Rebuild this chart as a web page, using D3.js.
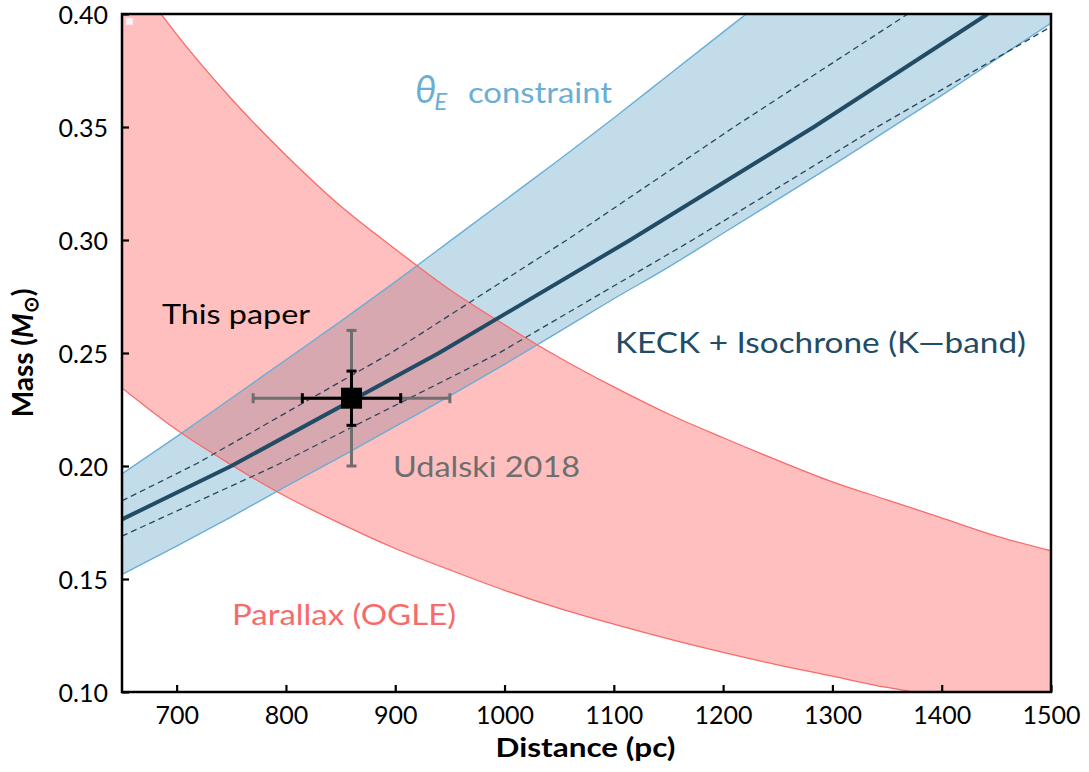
<!DOCTYPE html>
<html>
<head>
<meta charset="utf-8">
<script src="https://cdn.jsdelivr.net/npm/d3@7"></script>
<style>
  html, body { margin: 0; padding: 0; background: #fff; }
  svg { display: block; font-family: "Lato", "Open Sans", sans-serif; }
</style>
</head>
<body>
<svg id="chart" width="1089" height="772"></svg>
<script>
// ---------------- data ----------------
const parallaxD     = [650, 675, 700, 750, 800, 850, 900, 950, 1000, 1050, 1100, 1150, 1200, 1250, 1300, 1350, 1400, 1450, 1500];
const parallaxUpper = [0.424, 0.407, 0.391, 0.3625, 0.3375, 0.315, 0.296, 0.278, 0.2625, 0.248, 0.235, 0.223, 0.2125, 0.2025, 0.193, 0.185, 0.177, 0.169, 0.1625];
const parallaxLower = [0.2345, 0.225, 0.216, 0.2005, 0.1865, 0.1745, 0.1635, 0.154, 0.145, 0.137, 0.130, 0.1235, 0.1175, 0.112, 0.107, 0.102, 0.098, 0.094, 0.090];

const thetaD     = [650, 700, 750, 800, 850, 900, 950, 1000, 1050, 1100, 1150, 1200, 1250, 1300, 1350, 1400, 1450, 1500];
const thetaUpper = [0.1965, 0.213, 0.230, 0.247, 0.264, 0.2815, 0.2995, 0.3175, 0.3355, 0.354, 0.373, 0.392, 0.411, 0.431, 0.451, 0.471, 0.492, 0.513];
const thetaLower = [0.152, 0.1645, 0.1775, 0.191, 0.204, 0.2175, 0.231, 0.245, 0.2595, 0.274, 0.288, 0.303, 0.318, 0.333, 0.3485, 0.364, 0.380, 0.396];

const isoD      = [650, 750, 940, 1115, 1283, 1442];
const isoM      = [0.1764, 0.20, 0.25, 0.30, 0.35, 0.40];
const isoHiD    = [650, 719, 896, 1057, 1210, 1369];
const isoHiM    = [0.1846, 0.2012, 0.25, 0.30, 0.35, 0.40];
const isoLoD    = [650, 790, 995, 1172, 1341, 1500];
const isoLoM    = [0.169, 0.20, 0.25, 0.30, 0.35, 0.3944];

// measurement points: [distance, mass, dErr, mErr]
const udalskiPoint = [860, 0.23, 90, 0.03];
const thisPaperPoint = [860, 0.23, 45, 0.012];

const xTicks = [700, 800, 900, 1000, 1100, 1200, 1300, 1400, 1500];
const yTicks = [0.10, 0.15, 0.20, 0.25, 0.30, 0.35, 0.40];

// ---------------- layout ----------------
const svg = d3.select("#chart");
const L = 122, R = 1051, T = 14, B = 692;
const x = d3.scaleLinear().domain([650, 1500]).range([L, R]);
const y = d3.scaleLinear().domain([0.10, 0.40]).range([B, T]);

svg.append("defs").append("clipPath").attr("id", "plotclip")
  .append("rect").attr("x", L).attr("y", T).attr("width", R - L).attr("height", B - T);

const plot = svg.append("g").attr("clip-path", "url(#plotclip)");

const thetaData = thetaD.map((d, i) => ({d, lo: thetaLower[i], hi: thetaUpper[i]}));
const parData = parallaxD.map((d, i) => ({d, lo: parallaxLower[i], hi: parallaxUpper[i]}));

const area = d3.area().x(p => x(p.d)).y0(p => y(p.lo)).y1(p => y(p.hi)).curve(d3.curveMonotoneX);
const lineLo = d3.line().x(p => x(p.d)).y(p => y(p.lo)).curve(d3.curveMonotoneX);
const lineHi = d3.line().x(p => x(p.d)).y(p => y(p.hi)).curve(d3.curveMonotoneX);

// theta_E band
plot.append("path").datum(thetaData).attr("d", area).attr("fill", "#c3dcea");
// parallax band (semi-transparent over blue)
plot.append("path").datum(parData).attr("d", area).attr("fill", "rgb(255,72,72)").attr("fill-opacity", 0.35);

// edges
plot.append("path").datum(thetaData).attr("d", lineHi).attr("fill", "none").attr("stroke", "#6aaed6").attr("stroke-width", 1.4);
plot.append("path").datum(thetaData).attr("d", lineLo).attr("fill", "none").attr("stroke", "#6aaed6").attr("stroke-width", 1.4);
plot.append("path").datum(parData).attr("d", lineHi).attr("fill", "none").attr("stroke", "#f86b6b").attr("stroke-width", 1.3);
plot.append("path").datum(parData).attr("d", lineLo).attr("fill", "none").attr("stroke", "#f86b6b").attr("stroke-width", 1.3);

// isochrone lines
const simple = d3.line().x(p => x(p[0])).y(p => y(p[1]));
plot.append("path").datum(isoHiD.map((d, i) => [d, isoHiM[i]])).attr("d", simple)
  .attr("fill", "none").attr("stroke", "#28465c").attr("stroke-width", 1.3).attr("stroke-dasharray", "6,4");
plot.append("path").datum(isoLoD.map((d, i) => [d, isoLoM[i]])).attr("d", simple)
  .attr("fill", "none").attr("stroke", "#28465c").attr("stroke-width", 1.3).attr("stroke-dasharray", "6,4");
plot.append("path").datum(isoD.map((d, i) => [d, isoM[i]])).attr("d", simple)
  .attr("fill", "none").attr("stroke", "#224c66").attr("stroke-width", 4).attr("stroke-linejoin", "round");

// error bars
function errbar(pt, color, cap) {
  const [d, m, de, me] = pt;
  const g = svg.append("g").attr("stroke", color).attr("stroke-width", 3);
  g.append("line").attr("x1", x(d - de)).attr("x2", x(d + de)).attr("y1", y(m)).attr("y2", y(m));
  g.append("line").attr("x1", x(d)).attr("x2", x(d)).attr("y1", y(m - me)).attr("y2", y(m + me));
  [d - de, d + de].forEach(v => g.append("line").attr("x1", x(v)).attr("x2", x(v)).attr("y1", y(m) - cap).attr("y2", y(m) + cap));
  [m - me, m + me].forEach(v => g.append("line").attr("x1", x(d) - cap).attr("x2", x(d) + cap).attr("y1", y(v)).attr("y2", y(v)));
}
errbar(udalskiPoint, "#6e6e6e", 5);
errbar(thisPaperPoint, "#000", 5);
svg.append("rect")
  .attr("x", x(thisPaperPoint[0]) - 10.5).attr("y", y(thisPaperPoint[1]) - 10.5)
  .attr("width", 21).attr("height", 21).attr("fill", "#000");

// small empty legend handle at top-left
svg.append("rect").attr("x", 126).attr("y", 18).attr("width", 7).attr("height", 7)
  .attr("fill", "#fbf3f3").attr("stroke", "#e9dada").attr("stroke-width", 0.8);

// frame
svg.append("rect").attr("x", L).attr("y", T).attr("width", R - L).attr("height", B - T)
  .attr("fill", "none").attr("stroke", "#000").attr("stroke-width", 2.5);

// axes (inward ticks)
const xAxis = svg.append("g").attr("transform", `translate(0,${B})`)
  .call(d3.axisBottom(x).tickValues(xTicks).tickSize(-7).tickPadding(14).tickFormat(d3.format("d")));
const yAxis = svg.append("g").attr("transform", `translate(${L},0)`)
  .call(d3.axisLeft(y).tickValues(yTicks).tickSize(-7).tickPadding(14).tickFormat(d3.format(".2f")));
[xAxis, yAxis].forEach(a => {
  a.select(".domain").remove();
  a.selectAll(".tick line").attr("stroke", "#000").attr("stroke-width", 2.2);
  a.selectAll(".tick text").attr("fill", "#000").attr("font-size", 25).attr("font-family", "Lato");
});
xAxis.selectAll(".tick text").attr("dy", "0.72em");
yAxis.selectAll(".tick text").attr("dy", 9.5);

// axis titles
svg.append("text").attr("x", (L + R) / 2 - 1).attr("y", 757).attr("text-anchor", "middle")
  .attr("font-size", 27).attr("font-weight", 700)
  .attr("textLength", 180).attr("lengthAdjust", "spacingAndGlyphs").text("Distance (pc)");
const yl = svg.append("text").attr("transform", `translate(33,${(T + B) / 2}) rotate(-90)`)
  .attr("text-anchor", "middle").attr("font-size", 28).attr("font-weight", 700);
yl.append("tspan").text("Mass (");
yl.append("tspan").attr("font-style", "italic").text("M");
yl.append("tspan").attr("font-size", 20).attr("dy", 5).text("⊙");
yl.append("tspan").attr("dy", -5).text(")");

// annotations
const th = svg.append("text").attr("x", 415).attr("y", 103).attr("fill", "#6aaed6").attr("font-size", 28);
th.append("tspan").attr("font-style", "italic").attr("font-size", 38).text("θ");
th.append("tspan").attr("font-style", "italic").attr("font-size", 24).attr("dy", 7).attr("dx", -2).text("E");
svg.append("text").attr("x", 468).attr("y", 103).attr("fill", "#6aaed6").attr("font-size", 29)
  .attr("textLength", 144).attr("lengthAdjust", "spacingAndGlyphs").text("constraint");

svg.append("text").attr("x", 162).attr("y", 324).attr("fill", "#000").attr("font-size", 27)
  .attr("textLength", 148).attr("lengthAdjust", "spacingAndGlyphs").text("This paper");
svg.append("text").attr("x", 393).attr("y", 477).attr("fill", "#6e6e6e").attr("font-size", 28)
  .attr("textLength", 187).attr("lengthAdjust", "spacingAndGlyphs").text("Udalski 2018");
svg.append("text").attr("x", 615).attr("y", 353).attr("fill", "#224c66").attr("font-size", 28)
  .attr("textLength", 411).attr("lengthAdjust", "spacingAndGlyphs").text("KECK + Isochrone (K—band)");
svg.append("text").attr("x", 232).attr("y", 625).attr("fill", "#f86b6b").attr("font-size", 28)
  .attr("textLength", 224).attr("lengthAdjust", "spacingAndGlyphs").text("Parallax (OGLE)");
</script>
</body>
</html>
